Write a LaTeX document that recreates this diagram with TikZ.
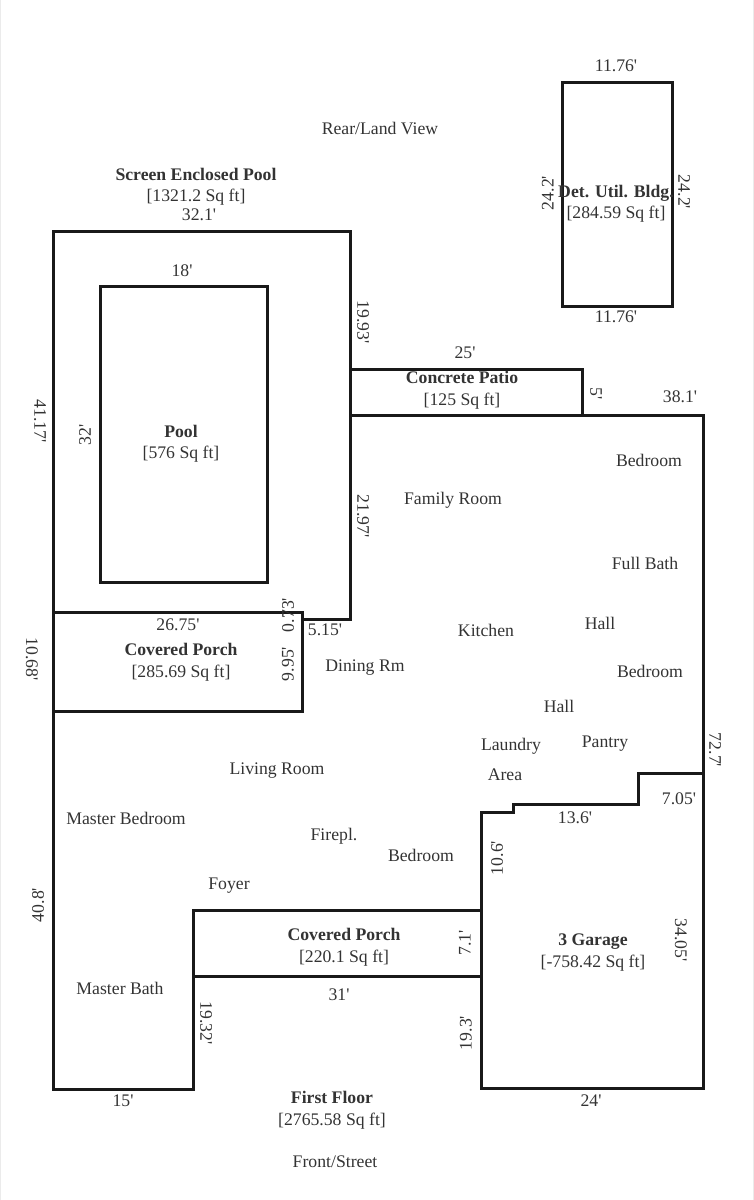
\documentclass[tikz,border=0pt]{standalone}
\usepackage{fontspec}
\newfontfamily\planfont{Liberation Serif}
\tikzset{
	wall/.style={line width=3pt, color=black!90, line join=miter},
	plaintext/.style={inner sep=0pt, text=black!80, align=center, font=\planfont\fontsize{17.7}{21.5}\selectfont},
	dimleft/.style={plaintext, rotate=90},
	dimright/.style={plaintext, rotate=-90},
}
\newcommand{\areatext}[2]{\textbf{#1}\\{}#2}
\begin{document}
\begin{tikzpicture}[x=1pt,y=-1pt]
	\useasboundingbox (0,0) rectangle (754,1200);
	\coordinate (PageTopL) at (0.5,0);
	\coordinate (PageBotL) at (0.5,1200);
	\coordinate (PageTopR) at (753.5,0);
	\coordinate (PageBotR) at (753.5,1200);
	\draw [line width=1pt, black!8] (PageTopL) -- (PageBotL);% page edges
	\draw [line width=1pt, black!8] (PageTopR) -- (PageBotR);
	
	% pool and its enclosure
	\draw [wall] (53,612) -- (53,231) -- (350,231) -- (350,619) -- (302,619);
	\draw [wall] (100,286) rectangle (267,582);
	
	% covered porch, rear
	\draw [wall] (53,612) -- (302,612) -- (302,711) -- (53,711);
	
	% patio and house outline
	\draw [wall] (350,415) -- (350,369) -- (582,369) -- (582,415);
	\draw [wall] (350,415) -- (703,415) -- (703,1088) -- (481,1088) -- (481,812) -- (513,812) -- (513,804) -- (638,804) -- (638,773) -- (703,773);
	\draw [wall] (53,612) -- (53,1089) -- (193,1089) -- (193,910) -- (481,910);
	\draw [wall] (193,976) -- (481,976);
	
	% detached building
	\draw [wall] (562,82) rectangle (672,306);
	
	% areas
	\node [plaintext] (PoolEncl) at (196,186.5) {\areatext{Screen Enclosed Pool}{[1321.2 Sq ft]}};
	\node [plaintext] (Pool) at (181,443.5) {\areatext{Pool}{[576 Sq ft]}};
	\node [plaintext] (Patio) at (462,390) {\areatext{Concrete Patio}{[125 Sq ft]}};
	\node [plaintext] (Util) at (616,203.5) {\areatext{Det. Util. Bldg.}{[284.59 Sq ft]}};
	\node [plaintext] (RearPorch) at (181,662) {\areatext{Covered Porch}{[285.69 Sq ft]}};
	\node [plaintext] (FrontPorch) at (344,947) {\areatext{Covered Porch}{[220.1 Sq ft]}};
	\node [plaintext] (Garage) at (593,952.5) {\areatext{3 Garage}{[-758.42 Sq ft]}};
	\node [plaintext] (FirstFloor) at (332,1110) {\areatext{First Floor}{[2765.58 Sq ft]}};
	
	% rooms
	\node [plaintext] (RearView) at (380,128) {Rear/Land View};
	\node [plaintext] (FrontView) at (335,1162) {Front/Street};
	\node [plaintext] (BedroomA) at (649,460) {Bedroom};
	\node [plaintext] (Family) at (453,500) {Family Room};
	\node [plaintext] (FullBath) at (645,563) {Full Bath};
	\node [plaintext] (Kitchen) at (486,630) {Kitchen};
	\node [plaintext] (HallA) at (600,623) {Hall};
	\node [plaintext] (Dining) at (365,668) {Dining Rm};
	\node [plaintext] (BedroomB) at (650,671) {Bedroom};
	\node [plaintext] (HallB) at (559,706) {Hall};
	\node [plaintext] (Laundry) at (511,746) {Laundry};
	\node [plaintext] (Pantry) at (605,744) {Pantry};
	\node [plaintext] (Living) at (277,771) {Living Room};
	\node [plaintext] (LaundryArea) at (505,775) {Area};
	\node [plaintext] (MasterBed) at (126,818) {Master Bedroom};
	\node [plaintext] (Firepl) at (334,836) {Firepl.};
	\node [plaintext] (BedroomC) at (421,855) {Bedroom};
	\node [plaintext] (Foyer) at (229,886) {Foyer};
	\node [plaintext] (MasterBath) at (120,988) {Master Bath};
	
	% dimensions
	\node [plaintext] (DimA) at (199,215) {32.1'};
	\node [plaintext] (DimB) at (182,271) {18'};
	\node [plaintext] (DimC) at (465,353) {25'};
	\node [plaintext] (DimD) at (680,397) {38.1'};
	\node [plaintext] (DimE) at (178,625) {26.75'};
	\node [plaintext] (DimF) at (325,630) {5.15'};
	\node [plaintext] (DimG) at (679,799) {7.05'};
	\node [plaintext] (DimH) at (575,818) {13.6'};
	\node [plaintext] (DimI) at (339,995) {31'};
	\node [plaintext] (DimJ) at (123,1101) {15'};
	\node [plaintext] (DimK) at (591,1101) {24'};
	\node [plaintext] (DimL) at (616,66) {11.76'};
	\node [plaintext] (DimM) at (616,317) {11.76'};
	
	\node [dimright] (DimN) at (363,322) {19.93'};
	\node [dimright] (DimO) at (40,421) {41.17'};
	\node [dimright] (DimP) at (596,394) {5'};
	\node [dimright] (DimQ) at (363,516) {21.97'};
	\node [dimright] (DimR) at (32,659) {10.68'};
	\node [dimright] (DimS) at (715,750) {72.7'};
	\node [dimright] (DimT) at (681,940) {34.05'};
	\node [dimright] (DimU) at (206,1023) {19.32'};
	\node [dimright] (DimV) at (684,192) {24.2'};
	
	\node [dimleft] (DimW) at (85,435) {32'};
	\node [dimleft] (DimX) at (288,615) {0.73'};
	\node [dimleft] (DimY) at (288,664) {9.95'};
	\node [dimleft] (DimZ) at (497,858) {10.6'};
	\node [dimleft] (DimAA) at (38,905) {40.8'};
	\node [dimleft] (DimAB) at (465,943) {7.1'};
	\node [dimleft] (DimAC) at (466,1033) {19.3'};
	\node [dimleft] (DimAD) at (548,193) {24.2'};
\end{tikzpicture}
\end{document}
